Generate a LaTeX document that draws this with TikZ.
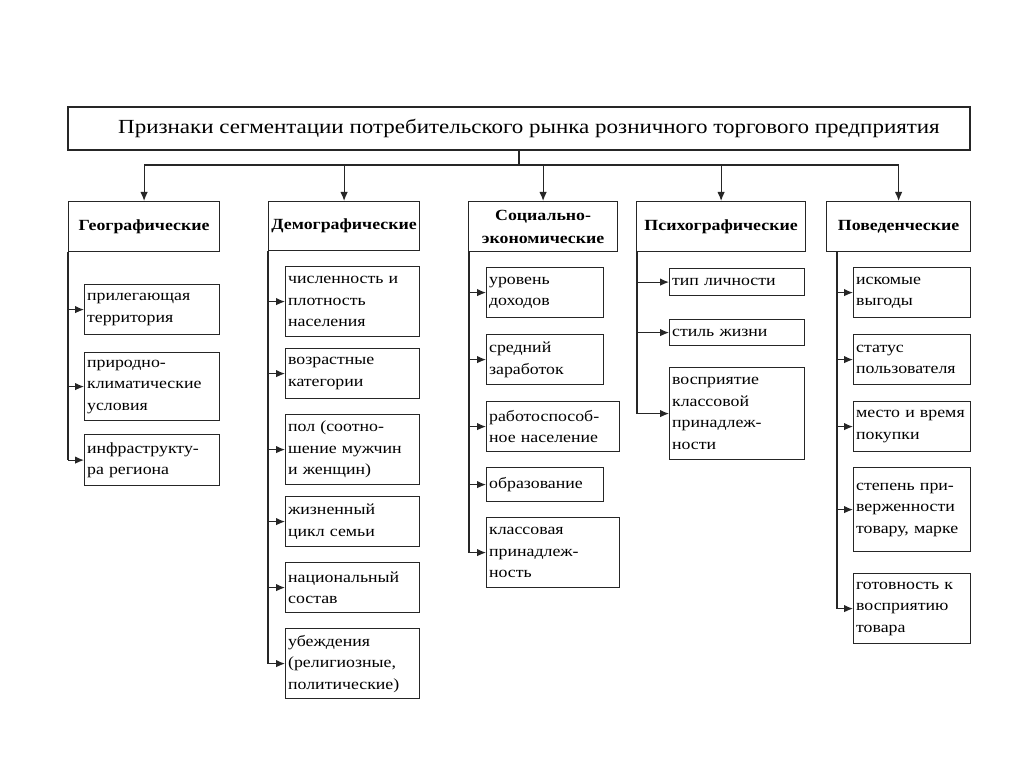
\documentclass[tikz,border=0pt]{standalone}
\usepackage{fontspec}
\setmainfont{Liberation Serif}[FakeStretch=1.15]
\usepackage{tikz}
\usetikzlibrary{calc,arrows.meta}

\tikzset{
  frame/.style={draw=black!85, line width=1.2pt},
  head/.style={frame, anchor=north west, align=center, inner sep=2pt,
    font=\bfseries\fontsize{15.5}{23}\selectfont},
  item/.style={frame, anchor=north west, align=left, inner xsep=2.5pt, inner ysep=2pt,
    font=\fontsize{15.5}{21.5}\selectfont},
  link/.style={draw=black!85, line width=1.2pt},
  tip/.style={-{Latex[length=9pt,width=7.5pt]}},
}

\begin{document}
\begin{tikzpicture}[x=1pt, y=-1pt]
        \useasboundingbox[fill=white] (0,0) rectangle (1024,767);

        % title
        \node[frame, minimum width=902pt, minimum height=43pt, inner sep=0pt,
              font=\fontsize{20}{24}\selectfont] (title) at (519,128.5)
              {\hspace*{20pt}Признаки сегментации потребительского рынка розничного торгового предприятия};
        \coordinate (bus) at (519,165);

        % groups
        \node[head, minimum width=151pt, minimum height=50pt] (geo) at (68,201) {Географические};
        \node[head, minimum width=151pt, minimum height=49pt] (dem) at (268,201) {Демографические};
        \node[head, minimum width=149pt, minimum height=50pt] (soc) at (468,201) {Социально-\\экономические};
        \node[head, minimum width=169pt, minimum height=50pt] (psy) at (636,201) {Психографические};
        \node[head, minimum width=144pt, minimum height=50pt] (beh) at (826,201) {Поведенческие};

        % title to groups
        \draw[link] (title.south) -- (bus);
        \draw[link] (geo.north |- bus) -- (beh.north |- bus);
        \foreach \g in {geo,dem,soc,psy,beh}
          \draw[link,tip] (\g.north |- bus) -- (\g.north);

        % geographic
        \node[item, text width=130pt, minimum height=50pt] (g1) at (84,284) {прилегающая\\территория};
        \node[item, text width=130pt, minimum height=68pt] (g2) at (84,352) {природно-\\климатические\\условия};
        \node[item, text width=130pt, minimum height=51pt] (g3) at (84,434) {инфраструкту-\\ра региона};

        % demographic
        \node[item, text width=129pt, minimum height=70pt] (d1) at (285,266) {численность и\\плотность\\населения};
        \node[item, text width=129pt, minimum height=50pt] (d2) at (285,348) {возрастные\\категории};
        \node[item, text width=129pt, minimum height=70pt] (d3) at (285,414) {пол (соотно-\\шение мужчин\\и женщин)};
        \node[item, text width=129pt, minimum height=50pt] (d4) at (285,496) {жизненный\\цикл семьи};
        \node[item, text width=129pt, minimum height=50pt] (d5) at (285,562) {национальный\\состав};
        \node[item, text width=129pt, minimum height=70pt] (d6) at (285,628) {убеждения\\(религиозные,\\политические)};

        % socio-economic
        \node[item, text width=112pt, minimum height=50pt] (s1) at (486,267) {уровень\\доходов};
        \node[item, text width=112pt, minimum height=50pt] (s2) at (486,334) {средний\\заработок};
        \node[item, text width=128pt, minimum height=50pt] (s3) at (486,401) {работоспособ-\\ное население};
        \node[item, text width=112pt, minimum height=34pt] (s4) at (486,467) {образование};
        \node[item, text width=128pt, minimum height=70pt] (s5) at (486,517) {классовая\\принадлеж-\\ность};

        % psychographic
        \node[item, text width=130pt, minimum height=27pt] (p1) at (669,268) {тип личности};
        \node[item, text width=130pt, minimum height=26pt] (p2) at (669,319) {стиль жизни};
        \node[item, text width=130pt, minimum height=92pt] (p3) at (669,367) {восприятие\\классовой\\принадлеж-\\ности};

        % behavioural
        \node[item, text width=112pt, minimum height=50pt] (b1) at (853,267) {искомые\\выгоды};
        \node[item, text width=112pt, minimum height=50pt] (b2) at (853,334) {статус\\пользователя};
        \node[item, text width=112pt, minimum height=50pt] (b3) at (853,401) {место и время\\покупки};
        \node[item, text width=112pt, minimum height=84pt] (b4) at (853,467) {степень при-\\верженности\\товару, марке};
        \node[item, text width=112pt, minimum height=70pt] (b5) at (853,573) {готовность к\\восприятию\\товара};

        % trunks
        \coordinate (gt) at (geo.south west);
        \coordinate (dt) at (dem.south west);
        \coordinate (st) at ([xshift=1pt]soc.south west);
        \coordinate (pt) at ([xshift=1pt]psy.south west);
        \coordinate (bt) at ([xshift=11pt]beh.south west);

        \draw[link] (gt) -- (gt |- g3.west);
        \draw[link] (dt) -- (dt |- d6.west);
        \draw[link] (st) -- (st |- s5.west);
        \draw[link] (pt) -- (pt |- p3.west);
        \draw[link] (bt) -- (bt |- b5.west);

        \foreach \n in {g1,g2,g3}
          \draw[link,tip] (gt |- \n.west) -- (\n.west);
        \foreach \n in {d1,d2,d3,d4,d5,d6}
          \draw[link,tip] (dt |- \n.west) -- (\n.west);
        \foreach \n in {s1,s2,s3,s4,s5}
          \draw[link,tip] (st |- \n.west) -- (\n.west);
        \foreach \n in {p1,p2,p3}
          \draw[link,tip] (pt |- \n.west) -- (\n.west);
        \foreach \n in {b1,b2,b3,b4,b5}
          \draw[link,tip] (bt |- \n.west) -- (\n.west);

\end{tikzpicture}
\end{document}
